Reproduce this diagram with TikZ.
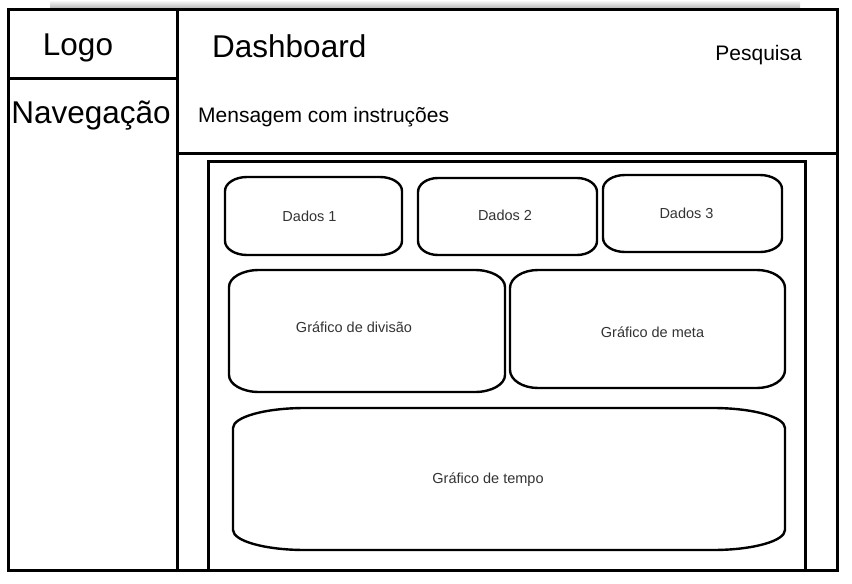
\documentclass[tikz,border=0pt]{standalone}
\usepackage{fontspec}
\setmainfont{Liberation Sans}
\usepackage{tikz}
\usetikzlibrary{positioning}
\definecolor{wireline}{HTML}{000000}
\definecolor{wiretext}{HTML}{333333}
\definecolor{wireshadow}{HTML}{B8B8B8}
\tikzset{
every picture/.style={line join=miter},
frame line/.style={draw=wireline, line width=3pt},
widget box/.style={draw=wireline, line width=2.4pt, line join=round},
big label/.style={font=\fontsize{31.5}{36}\selectfont, text=black, inner sep=0pt},
mid label/.style={font=\fontsize{21}{25}\selectfont, text=black, inner sep=0pt},
small label/.style={font=\fontsize{14.5}{17}\selectfont, text=wiretext, inner sep=0pt}
}
% left, top, right, bottom, corner x, corner y
\newcommand{\widgetbox}[6]{%
\draw[widget box] ({#1+#5},#2) -- ({#3-#5},#2)
  .. controls ({#3-0.448*#5},#2) and (#3,{#2+0.448*#6}) .. (#3,{#2+#6})
  -- (#3,{#4-#6})
  .. controls (#3,{#4-0.448*#6}) and ({#3-0.448*#5},#4) .. ({#3-#5},#4)
  -- ({#1+#5},#4)
  .. controls ({#1+0.448*#5},#4) and (#1,{#4-0.448*#6}) .. (#1,{#4-#6})
  -- (#1,{#2+#6})
  .. controls (#1,{#2+0.448*#6}) and ({#1+0.448*#5},#2) .. ({#1+#5},#2) -- cycle;
}
\begin{document}
\begin{tikzpicture}[x=1pt,y=-1pt]
\useasboundingbox (0,0) rectangle (852,584);
\fill[white] (0,0) rectangle (852,584);
\shade[top color=white, bottom color=wireshadow] (50,0) rectangle (800,8);
% page frame
\draw[frame line] (8,9) rectangle (837,570);
\draw[frame line] (177,9) -- (177,570);
\draw[frame line] (8,78) -- (177,78);
\draw[frame line] (177,153) -- (837,153);
\draw[frame line] (208,570) -- (208,161) -- (805,161) -- (805,570);
\node[big label, anchor=base] (logo) at (78,55) {Logo};
\node[big label, anchor=base] (nav) at (91,123) {Navegação};
\node[big label, anchor=base west] (dash) at (212,57) {Dashboard};
\node[mid label, anchor=base east] (search) at (802,60) {Pesquisa};
\node[mid label, anchor=base west] (msg) at (198,122) {Mensagem com instruções};
% widgets
\widgetbox{225}{177}{402}{255}{22}{14}
\widgetbox{418}{178}{597}{255}{20}{14}
\widgetbox{603}{175}{782}{252}{22}{14}
\widgetbox{229}{270}{505}{392}{30}{17}
\widgetbox{510}{270}{785}{388}{28}{18}
\widgetbox{233}{408}{785}{550}{72}{20}
\node[small label, anchor=base] (data1) at (309.5,221) {Dados 1};
\node[small label, anchor=base] (data2) at (505,220) {Dados 2};
\node[small label, anchor=base] (data3) at (686.5,218) {Dados 3};
\node[small label, anchor=base] (split) at (354,332) {Gráfico de divisão};
\node[small label, anchor=base] (goal) at (652.5,337) {Gráfico de meta};
\node[small label, anchor=base] (time) at (488,483) {Gráfico de tempo};
\end{tikzpicture}
\end{document}
